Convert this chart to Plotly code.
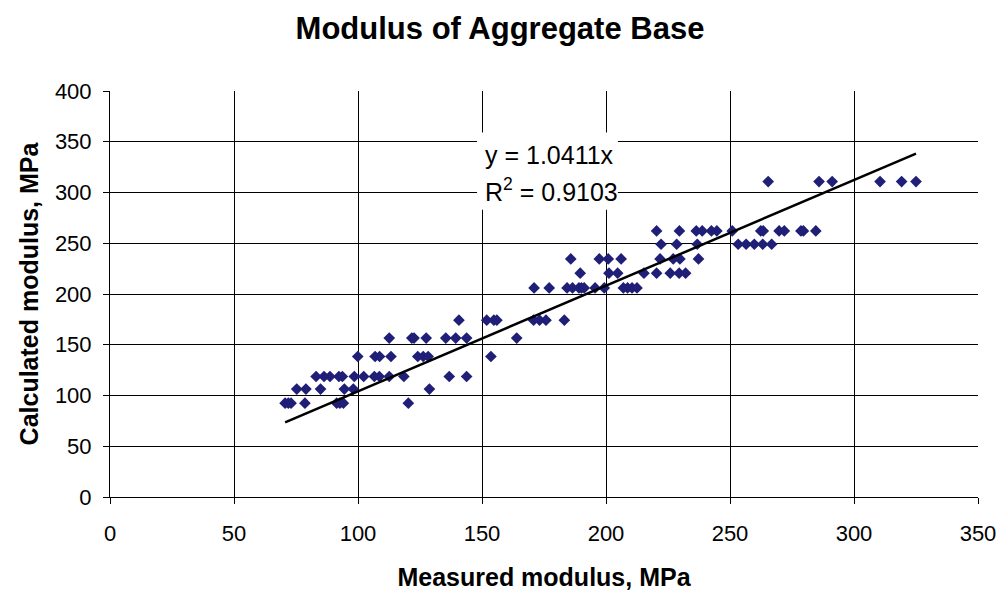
import plotly.graph_objects as go

# measured vs calculated modulus (MPa), grouped by calculated level
measured = [
    70.6, 71.9, 73.0, 78.6, 91.4, 92.7, 94.1, 120.3,
    75.3, 79.0, 84.9, 94.5, 98.1, 128.8,
    83.1, 86.3, 88.7, 92.3, 93.7, 98.5, 102.3, 106.6, 108.6, 112.6, 118.5, 136.8, 143.8,
    99.9, 106.9, 108.7, 113.3, 124.1, 126.3, 128.3, 153.6,
    112.6, 121.7, 122.6, 127.5, 135.4, 139.4, 143.8, 164.0,
    140.7, 151.9, 154.8, 156.0, 170.8, 173.2, 175.8, 183.2,
    171.0, 177.1, 184.3, 186.5, 189.1, 190.1, 191.2, 195.6, 199.3, 207.0, 208.7, 210.5, 212.5,
    189.6, 201.2, 204.7, 215.3, 220.4, 225.9, 229.5, 232.1,
    185.8, 197.3, 200.9, 206.1, 221.8, 227.1, 229.8, 237.3,
    222.2, 228.5, 236.8, 253.3, 256.5, 259.8, 263.2, 266.8,
    220.4, 229.6, 236.4, 238.8, 242.5, 244.7, 250.9, 262.4, 263.4, 269.8, 271.9, 278.6, 279.6, 284.6,
    265.4, 285.9, 291.2, 310.5, 319.2, 325.0,
]
calculated = (
    [92.4] * 8 + [106.3] * 6 + [118.7] * 13 + [138.4] * 8 + [156.6] * 8
    + [174.2] * 8 + [206.0] * 13 + [220.5] * 8 + [234.6] * 8 + [249.0] * 8
    + [262.1] * 14 + [310.8] * 6
)

slope = 1.0411
r2 = 0.9103
trend_x = [min(measured), max(measured)]
trend_y = [slope * v for v in trend_x]

x_ticks = [0, 50, 100, 150, 200, 250, 300, 350]
y_ticks = [0, 50, 100, 150, 200, 250, 300, 350, 400]

FONT = 'Liberation Sans, Arial'

fig = go.Figure()

fig.add_trace(go.Scatter(
    x=measured, y=calculated, mode='markers',
    marker=dict(symbol='diamond', size=9, color='#1f1f78'),
    showlegend=False, hoverinfo='x+y'
))

fig.add_trace(go.Scatter(
    x=trend_x, y=trend_y, mode='lines',
    line=dict(color='black', width=2.5),
    showlegend=False, hoverinfo='skip'
))

# white label box over the grid, then the two equation lines
fig.add_shape(type='rect', xref='x', yref='y', x0=148, x1=204.8, y0=283, y1=359,
              fillcolor='white', line=dict(width=0), layer='between')
eq_font = dict(family=FONT, size=25, color='black')
fig.add_annotation(x=150.2, y=337.4, xref='x', yref='y', xanchor='left', yanchor='middle',
                   text=f"y = {slope}x", showarrow=False, font=eq_font)
fig.add_annotation(x=150.2, y=302.9, xref='x', yref='y', xanchor='left', yanchor='middle',
                   text=f"R<sup>2</sup> = {r2}", showarrow=False, font=eq_font)

tick_font = dict(family=FONT, size=22, color='black')
title_font = dict(family=FONT, size=25, color='black')

fig.update_xaxes(
    range=[0, 350], tickvals=x_ticks, ticks='outside', ticklen=6, tickcolor='black',
    ticklabelstandoff=11,
    showgrid=True, gridcolor='black', gridwidth=1,
    showline=True, linecolor='black', linewidth=1, zeroline=False,
    tickfont=tick_font, automargin=False,
    title=dict(text='<b>Measured modulus, MPa</b>', font=title_font, standoff=23)
)
fig.update_yaxes(
    range=[0, 400], tickvals=y_ticks, ticks='outside', ticklen=6, tickcolor='black',
    ticklabelstandoff=7,
    showgrid=True, gridcolor='black', gridwidth=1,
    showline=True, linecolor='black', linewidth=1, zeroline=False,
    tickfont=tick_font, automargin=False,
    title=dict(text='<b>Calculated modulus, MPa</b>', font=title_font, standoff=9)
)

fig.update_layout(
    width=1000, height=591,
    margin=dict(l=110, r=22, t=91, b=94),
    paper_bgcolor='white', plot_bgcolor='white',
    title=dict(text='<b>Modulus of Aggregate Base</b>', x=0.5, xanchor='center',
               y=1 - 28 / 591, yref='container', yanchor='middle',
               font=dict(family=FONT, size=31, color='black')),
)

# drop the default page margin so the figure sits at the window's corner
fig.write_html("out.html", config={'displayModeBar': False},
               post_script="document.body.style.margin='0';")
